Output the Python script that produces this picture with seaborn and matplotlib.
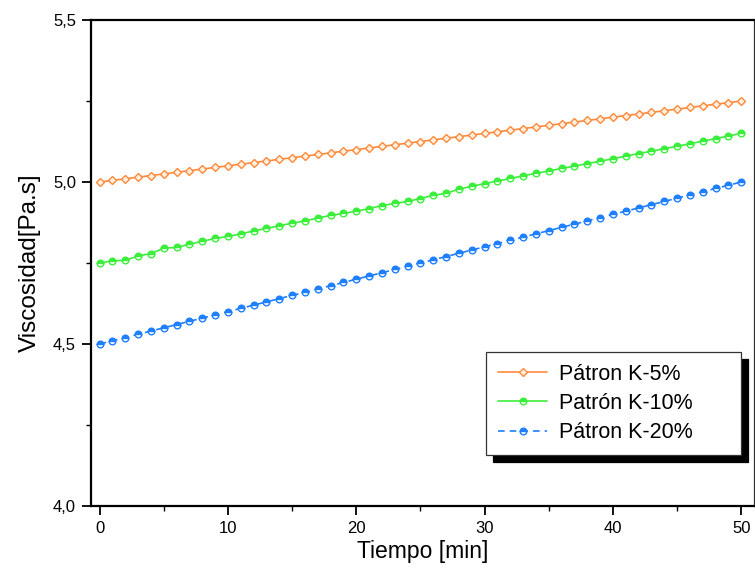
import matplotlib
matplotlib.use("Agg")
import matplotlib.pyplot as plt
from matplotlib.ticker import MultipleLocator, FuncFormatter
import seaborn as sns
import pandas as pd

# Tiempo de medición (min)
tiempo = list(range(0, 51))

# Viscosidad medida para cada patrón (Pa.s)
visc_k5 = [
    5.000, 5.005, 5.010, 5.015, 5.020, 5.025, 5.030, 5.035, 5.040, 5.045,
    5.050, 5.055, 5.060, 5.065, 5.070, 5.075, 5.080, 5.085, 5.090, 5.095,
    5.100, 5.105, 5.110, 5.115, 5.120, 5.125, 5.130, 5.135, 5.140, 5.145,
    5.150, 5.155, 5.160, 5.165, 5.170, 5.175, 5.180, 5.185, 5.190, 5.195,
    5.200, 5.205, 5.210, 5.215, 5.220, 5.225, 5.230, 5.235, 5.240, 5.245,
    5.250,
]
visc_k10 = [
    4.750, 4.757, 4.758, 4.772, 4.779, 4.796, 4.798, 4.808, 4.817, 4.826,
    4.832, 4.840, 4.849, 4.857, 4.865, 4.873, 4.880, 4.889, 4.897, 4.903,
    4.910, 4.918, 4.927, 4.934, 4.940, 4.949, 4.959, 4.965, 4.978, 4.987,
    4.995, 5.003, 5.011, 5.019, 5.027, 5.034, 5.042, 5.049, 5.057, 5.064,
    5.072, 5.080, 5.088, 5.095, 5.103, 5.110, 5.118, 5.126, 5.134, 5.142,
    5.150,
]
visc_k20 = [
    4.50, 4.51, 4.52, 4.53, 4.54, 4.55, 4.56, 4.57, 4.58, 4.59,
    4.60, 4.61, 4.62, 4.63, 4.64, 4.65, 4.66, 4.67, 4.68, 4.69,
    4.70, 4.71, 4.72, 4.73, 4.74, 4.75, 4.76, 4.77, 4.78, 4.79,
    4.80, 4.81, 4.82, 4.83, 4.84, 4.85, 4.86, 4.87, 4.88, 4.89,
    4.90, 4.91, 4.92, 4.93, 4.94, 4.95, 4.96, 4.97, 4.98, 4.99,
    5.00,
]

series_labels = ["Pátron K-5%", "Patrón K-10%", "Pátron K-20%"]

sns.set_theme(style="white")
plt.rcParams["font.family"] = ["Liberation Sans", "DejaVu Sans"]
plt.rcParams["text.color"] = "black"
plt.rcParams["axes.labelcolor"] = "black"

fig = plt.figure(figsize=(7.55, 5.72), dpi=100)
ax = fig.add_axes([0.1201, 0.1154, 0.8786, 0.8496])

orange = "#FF8A3C"
green = "#3CEE3C"
blue = "#1E7FFF"

styles = [
    dict(color=orange, marker="D", markersize=4.0, markerfacecolor="#FFF0E0",
         markeredgecolor=orange, markeredgewidth=1.0, linestyle="-", linewidth=1.2),
    dict(color=green, marker="o", markersize=4.8, fillstyle="top",
         markerfacecoloralt="white", markeredgecolor=green, markeredgewidth=1.0,
         linestyle="-", linewidth=1.2),
    dict(color=blue, marker="o", markersize=4.8, fillstyle="top",
         markerfacecoloralt="white", markeredgecolor=blue, markeredgewidth=1.0,
         linestyle=(0, (4, 3)), linewidth=1.2),
]

for vals, lab, st in zip([visc_k5, visc_k10, visc_k20], series_labels, styles):
    df = pd.DataFrame({"Tiempo": tiempo, "Viscosidad": vals})
    sns.lineplot(data=df, x="Tiempo", y="Viscosidad", ax=ax, label=lab,
                 legend=False, **st)

ax.set_xlim(-0.7, 51.0)
ax.set_ylim(4.0, 5.5)

ax.xaxis.set_major_locator(MultipleLocator(10))
ax.xaxis.set_minor_locator(MultipleLocator(5))
ax.yaxis.set_major_locator(MultipleLocator(0.5))
ax.yaxis.set_minor_locator(MultipleLocator(0.25))
ax.yaxis.set_major_formatter(FuncFormatter(lambda v, p: f"{v:.1f}".replace(".", ",")))

ax.tick_params(axis="both", which="major", direction="out", length=6.5, width=1.3,
               labelsize=12, colors="black", bottom=True, left=True, pad=4)
ax.tick_params(axis="both", which="minor", direction="out", length=3.5, width=1.0,
               colors="black", bottom=True, left=True)

for side in ["left", "top", "bottom"]:
    ax.spines[side].set_color("black")
    ax.spines[side].set_linewidth(1.6)
ax.spines["right"].set_color("#333333")
ax.spines["right"].set_linewidth(0.9)

ax.set_xlabel("Tiempo [min]", fontsize=16.5, labelpad=3, color="black")
ax.set_ylabel("Viscosidad[Pa.s]", fontsize=17.5, labelpad=9, color="black")

leg = ax.legend(loc="upper left", bbox_to_anchor=(0.596, 0.105, 0.384, 0.212),
                mode="expand", fontsize=15.5, frameon=True, fancybox=False,
                shadow={"ox": 5, "oy": -5, "facecolor": "black",
                        "edgecolor": "black", "alpha": 1.0},
                handlelength=2.3, handletextpad=0.55, labelspacing=0.38,
                borderpad=0.55, borderaxespad=0.0)
leg.get_frame().set_edgecolor("#333333")
leg.get_frame().set_linewidth(0.9)
leg.get_frame().set_alpha(1.0)
for t in leg.get_texts():
    t.set_color("black")

fig.savefig("out.png", dpi=100)
